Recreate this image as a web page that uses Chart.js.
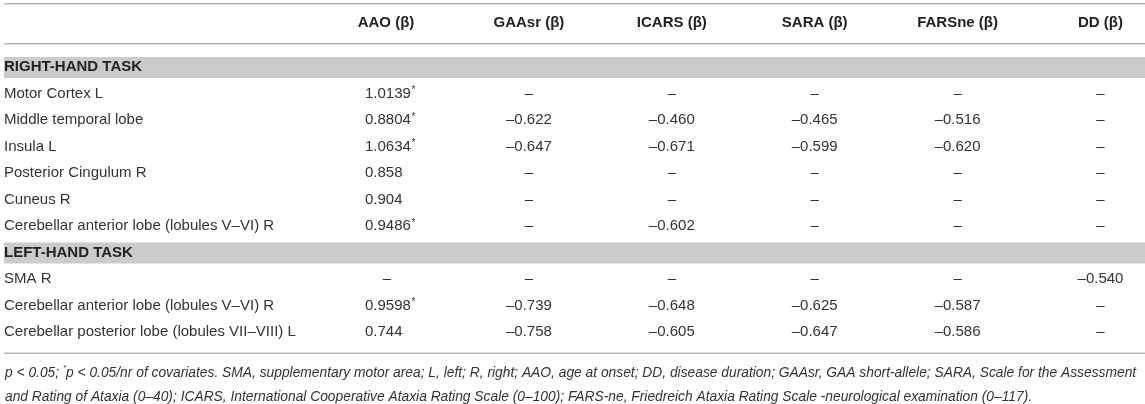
<!DOCTYPE html>
<html>
<head>
<meta charset="utf-8">
<script src="https://cdn.jsdelivr.net/npm/chart.js"></script>
<style>
  html, body { margin: 0; padding: 0; background: #fff; }
  canvas { display: block; }
</style>
</head>
<body>
<canvas id="tbl" width="1145" height="404"></canvas>
<script>
// Column headers
var columns = ["AAO (β)", "GAAsr (β)", "ICARS (β)", "SARA (β)", "FARSne (β)", "DD (β)"];

// Row groups
var sections = ["RIGHT-HAND TASK", "LEFT-HAND TASK"];
var rightRegions = ["Motor Cortex L", "Middle temporal lobe", "Insula L", "Posterior Cingulum R",
                    "Cuneus R", "Cerebellar anterior lobe (lobules V–VI) R"];
var leftRegions = ["SMA R", "Cerebellar anterior lobe (lobules V–VI) R",
                   "Cerebellar posterior lobe (lobules VII–VIII) L"];

// Values: 6 right-hand rows then 3 left-hand rows (null = "–")
var aao    = [1.0139, 0.8804, 1.0634, 0.858, 0.904, 0.9486, null, 0.9598, 0.744];
var aaoSig = [true, true, true, false, false, true, false, true, false];
var gaasr  = [null, -0.622, -0.647, null, null, null, null, -0.739, -0.758];
var icars  = [null, -0.460, -0.671, null, null, -0.602, null, -0.648, -0.605];
var sara   = [null, -0.465, -0.599, null, null, null, null, -0.625, -0.647];
var farsne = [null, -0.516, -0.620, null, null, null, null, -0.587, -0.586];
var dd     = [null, null, null, null, null, null, -0.540, null, null];

var footnote = [
  "p < 0.05; ^*p < 0.05/nr of covariates. SMA, supplementary motor area; L, left; R, right; AAO, age at onset; DD, disease duration; GAAsr, GAA short-allele; SARA, Scale for the Assessment",
  "and Rating of Ataxia (0–40); ICARS, International Cooperative Ataxia Rating Scale (0–100); FARS-ne, Friedreich Ataxia Rating Scale -neurological examination (0–117)."
];

// Estilo
var FONT = "'Liberation Sans', Arial, Helvetica, sans-serif";
var text_color = "#333333";
var head_color = "#222222";
var band_color = "#cbcbcb";
var rule_color = "#b4b4b4";
var colAlign = ["left", "center", "center", "center", "center", "center"]; // AAO fica alinhada à esquerda

var rowLabels = [sections[0]].concat(rightRegions, [sections[1]], leftRegions);
var bandRows = [0, rightRegions.length + 1];

function rowOf(k) { return k < rightRegions.length ? k + 1 : k + 2; }
function isBand(c) { return !!(c && c.tick) && bandRows.indexOf(c.tick.value) >= 0; }

function fmt(v, col) {
  if (v === null) return "–";
  var s = col === 0 ? String(v) : v.toFixed(3);
  return s.replace("-", "–");
}

var series = [aao, gaasr, icars, sara, farsne, dd];
var datasets = series.map(function (vals, c) {
  return {
    label: columns[c],
    data: vals.map(function (v, k) {
      return { x: c, y: rowOf(k), txt: fmt(v, c), star: c === 0 && aaoSig[k], empty: v === null };
    }),
    pointRadius: 0,
    pointHoverRadius: 0
  };
});

// Faixas cinza, linhas e nota de rodapé
var tablePlugin = {
  id: "tableDecor",
  beforeDraw: function (chart) {
    var ctx = chart.ctx, y = chart.scales.y, area = chart.chartArea;
    var x0 = 4, x1 = chart.width;
    ctx.save();
    ctx.fillStyle = band_color;
    bandRows.forEach(function (r) {
      var cy = y.getPixelForValue(r);
      ctx.fillRect(x0, cy - 10, x1 - x0, 21);
    });
    ctx.strokeStyle = rule_color;
    ctx.lineWidth = 1.5;
    [area.top - 50, area.top - 10, area.bottom + 8].forEach(function (ly) {
      ctx.beginPath();
      ctx.moveTo(x0, ly);
      ctx.lineTo(x1, ly);
      ctx.stroke();
    });
    ctx.restore();
  },
  afterDatasetsDraw: function (chart) {
    var ctx = chart.ctx;
    var body = "15px " + FONT, sup = "10px " + FONT;
    ctx.save();
    ctx.fillStyle = text_color;
    ctx.textBaseline = "middle";
    chart.data.datasets.forEach(function (ds, i) {
      var meta = chart.getDatasetMeta(i);
      meta.data.forEach(function (el, j) {
        var d = ds.data[j];
        ctx.font = body;
        if (d.empty) {
          ctx.textAlign = "center";
          ctx.fillText(d.txt, el.x + (colAlign[i] === "left" ? 1 : 0), el.y);
          return;
        }
        if (colAlign[i] === "left") {
          var x = el.x - 21;
          ctx.textAlign = "left";
          ctx.fillText(d.txt, x, el.y);
          if (d.star) {
            x += ctx.measureText(d.txt).width + 0.5;
            ctx.font = sup;
            ctx.fillText("*", x, el.y - 3);
          }
        } else {
          ctx.textAlign = "center";
          ctx.fillText(d.txt, el.x, el.y);
        }
      });
    });

    // footnote
    var area = chart.chartArea;
    var big = "italic 13.8px " + FONT, small = "italic 8px " + FONT;
    ctx.textAlign = "left";
    footnote.forEach(function (line, n) {
      var ly = area.bottom + 28 + n * 24;
      var parts = line.split("^*");
      var x = 5;
      parts.forEach(function (p, pi) {
        if (pi > 0) {
          ctx.font = small;
          ctx.fillText("*", x, ly - 5);
          x += ctx.measureText("*").width;
        }
        ctx.font = big;
        ctx.fillText(p, x, ly);
        x += ctx.measureText(p).width;
      });
    });
    ctx.restore();
  }
};

new Chart(document.getElementById("tbl"), {
  type: "scatter",
  data: { datasets: datasets },
  plugins: [tablePlugin],
  options: {
    responsive: false,
    animation: false,
    events: [],
    layout: { padding: { left: 4, right: 38, top: 0, bottom: 58.75 } },
    plugins: { legend: { display: false }, tooltip: { enabled: false } },
    scales: {
      x: {
        type: "linear",
        position: "top",
        min: 0,
        max: columns.length - 1,
        grid: { display: false, drawTicks: false },
        border: { display: false },
        afterFit: function (s) { s.height = 53.75; },
        afterBuildTicks: function (s) {
          s.ticks = columns.map(function (c, i) { return { value: i }; });
        },
        ticks: {
          autoSkip: false,
          maxRotation: 0,
          padding: 22,
          color: head_color,
          font: { family: FONT, size: 15, weight: "bold" },
          callback: function (v) { return columns[v]; }
        }
      },
      y: {
        type: "linear",
        reverse: true,
        min: -0.5,
        max: rowLabels.length - 0.5,
        grid: { display: false, drawTicks: false },
        border: { display: false },
        afterFit: function (s) { s.width = 382; },
        afterBuildTicks: function (s) {
          s.ticks = rowLabels.map(function (r, i) { return { value: i }; });
        },
        ticks: {
          autoSkip: false,
          crossAlign: "far",
          padding: 0,
          color: function (c) { return isBand(c) ? head_color : text_color; },
          font: function (c) {
            return { family: FONT, size: 15, weight: isBand(c) ? "bold" : "normal" };
          },
          callback: function (v) { return rowLabels[v]; }
        }
      }
    }
  }
});
</script>
</body>
</html>
